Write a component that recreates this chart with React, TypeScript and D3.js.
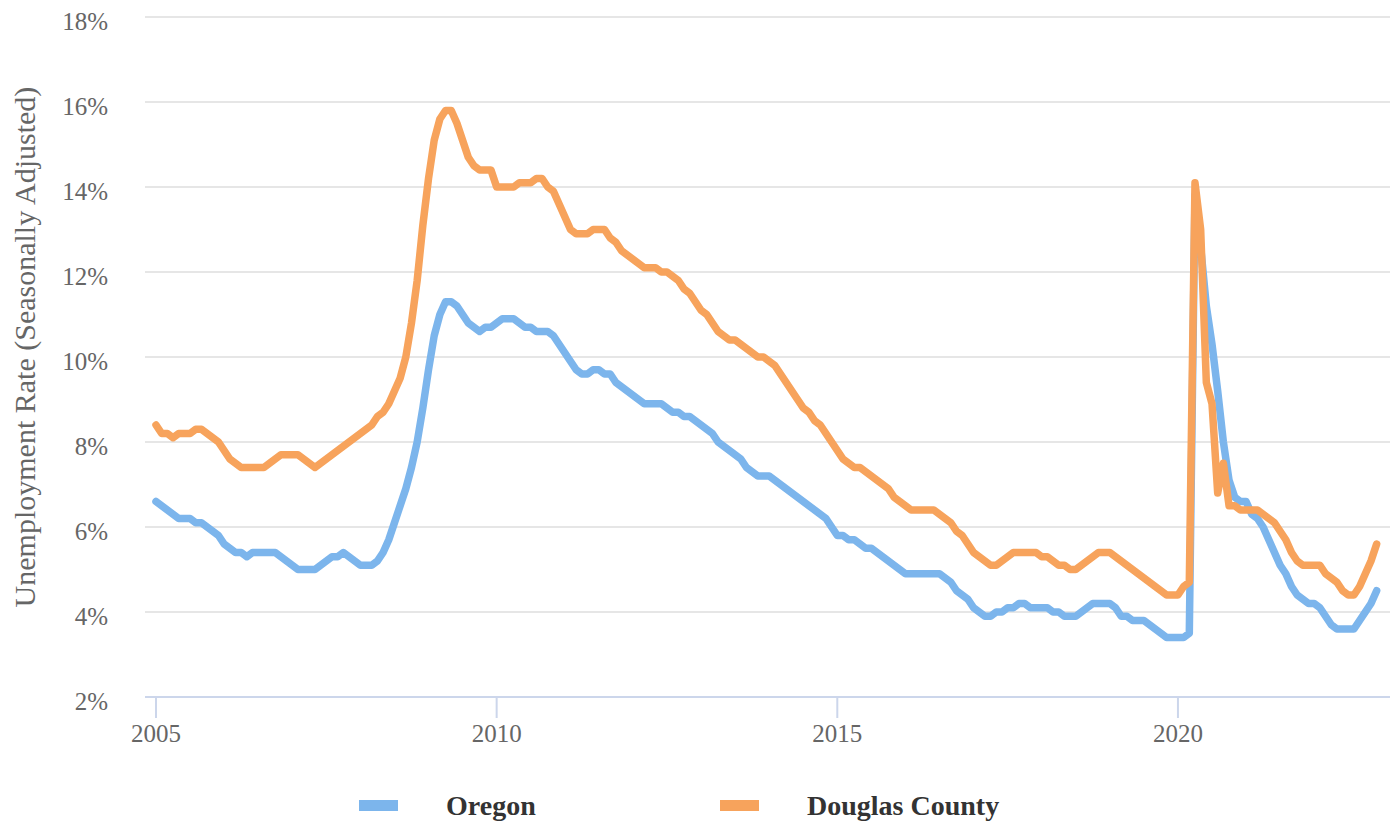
import React from 'react';
import * as d3 from 'd3';

// monthly, Jan 2005 .. Dec 2022
const START_YEAR = 2005;

const oregonRate = [
  6.6, 6.5, 6.4, 6.3, 6.2, 6.2, 6.2, 6.1, 6.1, 6.0, 5.9, 5.8,
  5.6, 5.5, 5.4, 5.4, 5.3, 5.4, 5.4, 5.4, 5.4, 5.4, 5.3, 5.2,
  5.1, 5.0, 5.0, 5.0, 5.0, 5.1, 5.2, 5.3, 5.3, 5.4, 5.3, 5.2,
  5.1, 5.1, 5.1, 5.2, 5.4, 5.7, 6.1, 6.5, 6.9, 7.4, 8.0, 8.8,
  9.7, 10.5, 11.0, 11.3, 11.3, 11.2, 11.0, 10.8, 10.7, 10.6, 10.7, 10.7,
  10.8, 10.9, 10.9, 10.9, 10.8, 10.7, 10.7, 10.6, 10.6, 10.6, 10.5, 10.3,
  10.1, 9.9, 9.7, 9.6, 9.6, 9.7, 9.7, 9.6, 9.6, 9.4, 9.3, 9.2,
  9.1, 9.0, 8.9, 8.9, 8.9, 8.9, 8.8, 8.7, 8.7, 8.6, 8.6, 8.5,
  8.4, 8.3, 8.2, 8.0, 7.9, 7.8, 7.7, 7.6, 7.4, 7.3, 7.2, 7.2,
  7.2, 7.1, 7.0, 6.9, 6.8, 6.7, 6.6, 6.5, 6.4, 6.3, 6.2, 6.0,
  5.8, 5.8, 5.7, 5.7, 5.6, 5.5, 5.5, 5.4, 5.3, 5.2, 5.1, 5.0,
  4.9, 4.9, 4.9, 4.9, 4.9, 4.9, 4.9, 4.8, 4.7, 4.5, 4.4, 4.3,
  4.1, 4.0, 3.9, 3.9, 4.0, 4.0, 4.1, 4.1, 4.2, 4.2, 4.1, 4.1,
  4.1, 4.1, 4.0, 4.0, 3.9, 3.9, 3.9, 4.0, 4.1, 4.2, 4.2, 4.2,
  4.2, 4.1, 3.9, 3.9, 3.8, 3.8, 3.8, 3.7, 3.6, 3.5, 3.4, 3.4,
  3.4, 3.4, 3.5, 13.8, 12.6, 11.2, 10.3, 9.2, 8.0, 7.1, 6.7, 6.6,
  6.6, 6.3, 6.2, 6.0, 5.7, 5.4, 5.1, 4.9, 4.6, 4.4, 4.3, 4.2,
  4.2, 4.1, 3.9, 3.7, 3.6, 3.6, 3.6, 3.6, 3.8, 4.0, 4.2, 4.5,
];

const douglasRate = [
  8.4, 8.2, 8.2, 8.1, 8.2, 8.2, 8.2, 8.3, 8.3, 8.2, 8.1, 8.0,
  7.8, 7.6, 7.5, 7.4, 7.4, 7.4, 7.4, 7.4, 7.5, 7.6, 7.7, 7.7,
  7.7, 7.7, 7.6, 7.5, 7.4, 7.5, 7.6, 7.7, 7.8, 7.9, 8.0, 8.1,
  8.2, 8.3, 8.4, 8.6, 8.7, 8.9, 9.2, 9.5, 10.0, 10.8, 11.8, 13.1,
  14.2, 15.1, 15.6, 15.8, 15.8, 15.5, 15.1, 14.7, 14.5, 14.4, 14.4, 14.4,
  14.0, 14.0, 14.0, 14.0, 14.1, 14.1, 14.1, 14.2, 14.2, 14.0, 13.9, 13.6,
  13.3, 13.0, 12.9, 12.9, 12.9, 13.0, 13.0, 13.0, 12.8, 12.7, 12.5, 12.4,
  12.3, 12.2, 12.1, 12.1, 12.1, 12.0, 12.0, 11.9, 11.8, 11.6, 11.5, 11.3,
  11.1, 11.0, 10.8, 10.6, 10.5, 10.4, 10.4, 10.3, 10.2, 10.1, 10.0, 10.0,
  9.9, 9.8, 9.6, 9.4, 9.2, 9.0, 8.8, 8.7, 8.5, 8.4, 8.2, 8.0,
  7.8, 7.6, 7.5, 7.4, 7.4, 7.3, 7.2, 7.1, 7.0, 6.9, 6.7, 6.6,
  6.5, 6.4, 6.4, 6.4, 6.4, 6.4, 6.3, 6.2, 6.1, 5.9, 5.8, 5.6,
  5.4, 5.3, 5.2, 5.1, 5.1, 5.2, 5.3, 5.4, 5.4, 5.4, 5.4, 5.4,
  5.3, 5.3, 5.2, 5.1, 5.1, 5.0, 5.0, 5.1, 5.2, 5.3, 5.4, 5.4,
  5.4, 5.3, 5.2, 5.1, 5.0, 4.9, 4.8, 4.7, 4.6, 4.5, 4.4, 4.4,
  4.4, 4.6, 4.7, 14.1, 13.0, 9.4, 8.9, 6.8, 7.5, 6.5, 6.5, 6.4,
  6.4, 6.4, 6.4, 6.3, 6.2, 6.1, 5.9, 5.7, 5.4, 5.2, 5.1, 5.1,
  5.1, 5.1, 4.9, 4.8, 4.7, 4.5, 4.4, 4.4, 4.6, 4.9, 5.2, 5.6,
];

const yTicks = [2, 4, 6, 8, 10, 12, 14, 16, 18];
const xTicks = [2005, 2010, 2015, 2020];

const seriesNames = ['Oregon', 'Douglas County'];
const seriesColors = ['#7cb5ec', '#f7a35c'];

const WIDTH = 1397;
const HEIGHT = 823;
const plot = { left: 145, right: 1390, top: 17, bottom: 697 };

const FONT = '"Liberation Serif", "Times New Roman", serif';

export default function App() {
  // x in decimal years; 2005 sits at 156px, 68.13px per year
  const pxPerYear = 68.13;
  const x = d3
    .scaleLinear()
    .domain([
      START_YEAR - (156 - plot.left) / pxPerYear,
      START_YEAR + (plot.right - 156) / pxPerYear,
    ])
    .range([plot.left, plot.right]);

  const y = d3.scaleLinear().domain([2, 18]).range([plot.bottom, plot.top]);

  const line = d3
    .line<number>()
    .x((_, i) => x(START_YEAR + i / 12))
    .y((d) => y(d));

  const series = [oregonRate, douglasRate];

  return (
    <div style={{ position: 'absolute', left: 0, top: 0 }}>
      <style>{'body{margin:0}'}</style>
      <svg width={WIDTH} height={HEIGHT} style={{ display: 'block', background: '#fff' }}>
        {/* grid */}
        {yTicks.slice(1).map((t) => (
          <line
            key={'g' + t}
            x1={plot.left}
            x2={plot.right}
            y1={y(t)}
            y2={y(t)}
            stroke="#e6e6e6"
            strokeWidth={2}
          />
        ))}

        {/* y labels */}
        {yTicks.map((t) => (
          <text
            key={'yl' + t}
            x={108}
            y={y(t) + 13}
            textAnchor="end"
            fontFamily={FONT}
            fontSize={25}
            fill="#666666"
          >
            {t}%
          </text>
        ))}

        {/* y title */}
        <text
          transform={`translate(35, ${(plot.top + plot.bottom) / 2 - 10}) rotate(-90)`}
          textAnchor="middle"
          fontFamily={FONT}
          fontSize={30}
          fill="#666666"
        >
          Unemployment Rate (Seasonally Adjusted)
        </text>

        {/* x axis */}
        <line
          x1={plot.left}
          x2={plot.right}
          y1={plot.bottom}
          y2={plot.bottom}
          stroke="#ccd6eb"
          strokeWidth={2}
        />
        {xTicks.map((t) => (
          <g key={'xt' + t}>
            <line
              x1={x(t)}
              x2={x(t)}
              y1={plot.bottom}
              y2={plot.bottom + 21}
              stroke="#ccd6eb"
              strokeWidth={2}
            />
            <text
              x={x(t)}
              y={742}
              textAnchor="middle"
              fontFamily={FONT}
              fontSize={25}
              fill="#666666"
            >
              {t}
            </text>
          </g>
        ))}

        {/* series */}
        {series.map((s, k) => (
          <path
            key={'s' + k}
            d={line(s) || ''}
            fill="none"
            stroke={seriesColors[k]}
            strokeWidth={7.5}
            strokeLinejoin="round"
            strokeLinecap="round"
          />
        ))}

        {/* legend */}
        {seriesNames.map((name, k) => {
          const lx = k === 0 ? 359 : 720;
          return (
            <g key={'lg' + k} transform={`translate(${lx}, 806)`}>
              <rect x={0} y={-6} width={39} height={11} fill={seriesColors[k]} />
              <text
                x={87}
                y={9}
                fontFamily={FONT}
                fontSize={28}
                fontWeight="bold"
                fill="#333333"
              >
                {name}
              </text>
            </g>
          );
        })}
      </svg>
    </div>
  );
}
